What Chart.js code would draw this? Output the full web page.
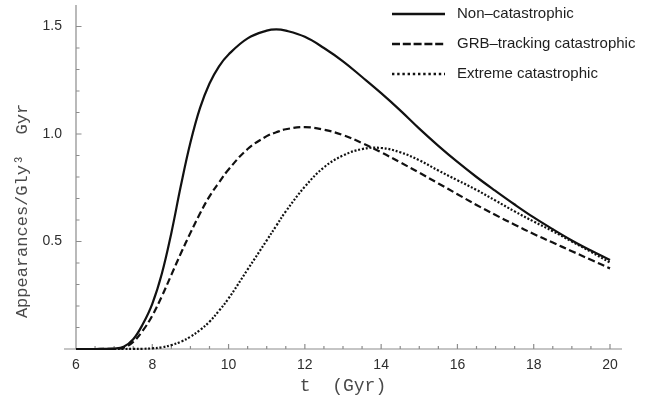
<!DOCTYPE html>
<html>
<head>
<meta charset="utf-8">
<script src="https://cdn.jsdelivr.net/npm/chart.js@4.4.0/dist/chart.umd.min.js"></script>
<style>
    html, body { margin: 0; padding: 0; background: #ffffff; }
    #wrap { width: 648px; height: 403px; position: relative; }
</style>
</head>
<body>
<div id="wrap"><canvas id="chart"></canvas></div>
<script>
'use strict';

// t in Gyr
const tValues = [6, 6.5, 7, 7.25, 7.5, 7.75, 8, 8.25, 8.5, 8.75, 9, 9.25, 9.5, 9.75, 10, 10.5, 11, 11.25, 11.5,
    12, 12.5, 13, 13.5, 14, 14.5, 15, 15.5, 16, 16.5, 17, 17.5, 18, 18.5, 19, 19.5, 20];

const nonCatastrophic = [0, 0, 0.002, 0.01, 0.045, 0.115, 0.21, 0.35, 0.54, 0.76, 0.96, 1.12, 1.235, 1.315,
    1.37, 1.445, 1.481, 1.487, 1.481, 1.452, 1.40, 1.338, 1.265, 1.19, 1.11, 1.025, 0.945, 0.87, 0.80, 0.735,
    0.672, 0.612, 0.557, 0.505, 0.458, 0.414];

const grbTracking = [0, 0, 0.001, 0.006, 0.033, 0.085, 0.155, 0.245, 0.345, 0.445, 0.54, 0.63, 0.71, 0.775,
    0.835, 0.93, 0.99, 1.008, 1.022, 1.032, 1.02, 0.995, 0.958, 0.915, 0.868, 0.82, 0.77, 0.72, 0.67, 0.623,
    0.578, 0.535, 0.495, 0.455, 0.415, 0.375];

const extremeCatastrophic = [0, 0, 0, 0, 0.0005, 0.001, 0.003, 0.008, 0.018, 0.034, 0.057, 0.088, 0.127,
    0.178, 0.235, 0.37, 0.505, 0.573, 0.64, 0.755, 0.845, 0.9, 0.93, 0.935, 0.915, 0.878, 0.83, 0.785, 0.74,
    0.69, 0.64, 0.593, 0.548, 0.5, 0.452, 0.402];

const seriesLabels = ['Non\u2013catastrophic', 'GRB\u2013tracking catastrophic', 'Extreme catastrophic'];
const xTickLabels = [6, 8, 10, 12, 14, 16, 18, 20];
const yTickLabels = [0.5, 1.0, 1.5];

const palette = {
    line: '#111111',
    axis: '#8c8c8c',
    tick: '#2e2e2e',
    title: '#4a4a4a',
    legend: '#1e1e1e'
};

function points(values) {
    return tValues.map((t, i) => ({ x: t, y: values[i] }));
}

// Mathematica style axes: crossing at (6, 0), ticks pointing inward
const axesPlugin = {
    id: 'mathAxes',
    beforeDatasetsDraw(chart) {
        const { ctx, scales: { x, y }, chartArea } = chart;
        const x0 = x.getPixelForValue(6);
        const y0 = y.getPixelForValue(0);
        ctx.save();
        ctx.strokeStyle = palette.axis;
        ctx.lineWidth = 1.2;
        ctx.beginPath();
        ctx.moveTo(x0 - 12, y0);
        ctx.lineTo(x.getPixelForValue(20) + 12, y0);
        ctx.moveTo(x0, y0);
        ctx.lineTo(x0, y.getPixelForValue(1.6));
        for (let i = 13; i <= 40; i++) {
            const t = i / 2;
            const px = x.getPixelForValue(t);
            const len = i % 4 === 0 ? 5 : 3;
            ctx.moveTo(px, y0);
            ctx.lineTo(px, y0 - len);
        }
        for (let i = 1; i <= 15; i++) {
            const py = y.getPixelForValue(i / 10);
            const len = i % 5 === 0 ? 5.5 : 3.5;
            ctx.moveTo(x0, py);
            ctx.lineTo(x0 + len, py);
        }
        ctx.stroke();

        ctx.fillStyle = palette.tick;
        ctx.font = "14px 'Liberation Sans', Arial, sans-serif";
        ctx.textAlign = 'center';
        ctx.textBaseline = 'middle';
        xTickLabels.forEach((t) => ctx.fillText(String(t), x.getPixelForValue(t), y0 + 16));
        ctx.textAlign = 'right';
        yTickLabels.forEach((v) => ctx.fillText(v.toFixed(1), x0 - 14, y.getPixelForValue(v)));

        ctx.fillStyle = palette.title;
        ctx.font = "18px 'Liberation Mono', 'Courier New', monospace";
        ctx.textAlign = 'center';
        ctx.fillText('t  (Gyr)', (chartArea.left + chartArea.right) / 2, 386);
        ctx.translate(22, 211);
        ctx.rotate(-Math.PI / 2);
        ctx.font = "17px 'Liberation Mono', 'Courier New', monospace";
        ctx.fillText('Appearances/Gly\u00b3  Gyr', 0, 0);
        ctx.restore();
    },
    afterDraw(chart) {
        const { ctx } = chart;
        ctx.save();
        chart.data.datasets.forEach((ds, i) => {
            const ly = 14 + i * 30;
            ctx.strokeStyle = ds.borderColor;
            ctx.lineWidth = ds.borderWidth + 0.3;
            ctx.setLineDash(ds.legendDash);
            ctx.beginPath();
            ctx.moveTo(392, ly);
            ctx.lineTo(445, ly);
            ctx.stroke();
            ctx.setLineDash([]);
            ctx.fillStyle = palette.legend;
            ctx.font = "15px 'Liberation Sans', Arial, sans-serif";
            ctx.textAlign = 'left';
            ctx.textBaseline = 'middle';
            ctx.fillText(ds.label, 457, ly);
        });
        ctx.restore();
    }
};

function lineSet(label, values, dash, legendDash) {
    return {
        label,
        data: points(values),
        borderColor: palette.line,
        borderWidth: 2.2,
        borderDash: dash,
        legendDash,
        pointRadius: 0,
        tension: 0.4,
        fill: false,
        clip: 4
    };
}

new Chart(document.getElementById('chart'), {
    type: 'line',
    data: {
        datasets: [
            lineSet(seriesLabels[0], nonCatastrophic, [], []),
            lineSet(seriesLabels[1], grbTracking, [7, 3.5], [8, 2.8]),
            lineSet(seriesLabels[2], extremeCatastrophic, [2, 1.8], [2.4, 2.8])
        ]
    },
    options: {
        responsive: true,
        maintainAspectRatio: false,
        animation: false,
        layout: { padding: { left: 76, right: 38, top: 5, bottom: 54 } },
        plugins: {
            legend: { display: false },
            tooltip: { enabled: false }
        },
        scales: {
            x: { type: 'linear', min: 6, max: 20, display: false },
            y: { type: 'linear', min: 0, max: 1.6, display: false }
        }
    },
    plugins: [axesPlugin]
});
</script>
</body>
</html>
